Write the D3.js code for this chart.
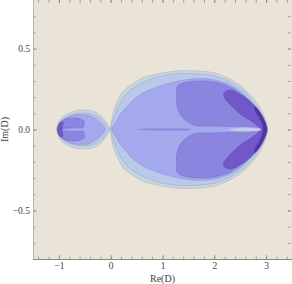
<!DOCTYPE html>
<html>
<head>
<meta charset="utf-8">
<script src="https://cdn.jsdelivr.net/npm/d3@7"></script>
<style>
  body { margin: 0; background: #fff; }
  text { font-family: "Liberation Serif", "DejaVu Serif", serif; fill: #444; }
</style>
</head>
<body>
<div id="chart"></div>
<script>
const w = 292;
const h = 284;
const margin = { left: 33, right: 0, top: 0, bottom: 25 };

const xDomain = [-1.5, 3.5];
const yDomain = [-0.8, 0.8];
const xTicks = [-1, 0, 1, 2, 3];
const yTicks = [-0.5, 0, 0.5];
const xLabel = "Re(D)";
const yLabel = "Im(D)";

// upper halves of each contour band, [Re, Im]
const bigOuter = [[0, 0], [0.02, 0.06], [0.06, 0.12], [0.14, 0.18], [0.25, 0.24], [0.41, 0.28], [0.62, 0.32], [0.85, 0.34], [1.1, 0.355], [1.39, 0.364], [1.72, 0.361], [2.01, 0.349], [2.26, 0.318], [2.49, 0.275], [2.68, 0.219], [2.84, 0.158], [2.95, 0.09], [3.01, 0.04], [3.03, 0]];
const bigLight = [[0, 0], [0.06, 0.07], [0.14, 0.14], [0.25, 0.2], [0.41, 0.25], [0.62, 0.29], [0.85, 0.32], [1.1, 0.337], [1.39, 0.346], [1.72, 0.343], [2.01, 0.33], [2.26, 0.3], [2.49, 0.256], [2.68, 0.2], [2.82, 0.145], [2.93, 0.083], [2.99, 0.034], [3.01, 0]];
const bigPeri = [[0.02, 0], [0.1, 0.046], [0.19, 0.096], [0.31, 0.14], [0.46, 0.19], [0.66, 0.232], [0.89, 0.262], [1.14, 0.287], [1.43, 0.306], [1.72, 0.315], [2.01, 0.306], [2.26, 0.281], [2.49, 0.238], [2.66, 0.188], [2.8, 0.133], [2.9, 0.077], [2.95, 0.034], [2.97, 0]];
const bigPurple = [[1.29, 0.269], [1.43, 0.29], [1.72, 0.3], [2.01, 0.293], [2.26, 0.269], [2.49, 0.225], [2.68, 0.176], [2.82, 0.12], [2.92, 0.065], [2.95, 0.022], [2.96, 0], [2.78, 0.015], [2.59, 0.019], [2.3, 0.019], [1.91, 0.022], [1.62, 0.025], [1.53, 0.04], [1.39, 0.071], [1.31, 0.114], [1.27, 0.164], [1.27, 0.219]];
const bigDark = [[2.2, 0.232], [2.32, 0.244], [2.49, 0.219], [2.64, 0.188], [2.8, 0.139], [2.92, 0.09], [2.99, 0.04], [3.01, 0], [2.92, 0], [2.84, 0.022], [2.68, 0.059], [2.55, 0.083], [2.39, 0.127], [2.26, 0.17], [2.18, 0.207]];
const bigDeep = [[2.78, 0.145], [2.88, 0.108], [2.95, 0.065], [3.01, 0.022], [3.02, 0], [2.95, 0], [2.92, 0.034], [2.86, 0.077], [2.78, 0.12]];
const bigStreak = [[2.26, 0], [2.4, 0.008], [2.7, 0.01], [2.9, 0.006], [2.95, 0]];
const bigLine = [[0.48, 0], [0.7, 0.005], [1.2, 0.006], [1.49, 0.004], [1.55, 0]];

const smallOuter = [[-1.04, 0], [-1.02, 0.034], [-0.97, 0.065], [-0.87, 0.09], [-0.73, 0.111], [-0.56, 0.12], [-0.39, 0.117], [-0.25, 0.099], [-0.15, 0.071], [-0.08, 0.04], [-0.02, 0.009], [0, 0]];
const smallLight = [[-0.99, 0], [-0.97, 0.034], [-0.93, 0.059], [-0.83, 0.08], [-0.71, 0.096], [-0.56, 0.102], [-0.41, 0.099], [-0.27, 0.083], [-0.17, 0.059], [-0.1, 0.031], [-0.04, 0.006], [-0.01, 0]];
const smallPeri = [[-1.0, 0], [-0.97, 0.04], [-0.89, 0.068], [-0.75, 0.086], [-0.6, 0.093], [-0.44, 0.09], [-0.31, 0.071], [-0.21, 0.046], [-0.14, 0.022], [-0.1, 0]];
const smallPurple = [[-1.01, 0], [-0.99, 0.034], [-0.94, 0.056], [-0.83, 0.068], [-0.69, 0.071], [-0.58, 0.065], [-0.51, 0.049], [-0.52, 0.025], [-0.56, 0]];
const smallDark = [[-1.03, 0], [-1.01, 0.028], [-0.97, 0.046], [-0.92, 0.043], [-0.93, 0.022], [-0.95, 0]];
const smallStreak = [[-0.93, 0], [-0.8, 0.006], [-0.5, 0.006], [-0.37, 0]];

const colors = {
  bg: "#eae4d8",
  outer: "#c9d4de",
  light: "#b8c9ea",
  peri: "#a3a9ec",
  purple: "#8c85e0",
  dark: "#7058c6",
  deep: "#5532a8",
  streak: "#c8d2ec",
};

const svg = d3.select("#chart").append("svg").attr("width", w).attr("height", h);

const x = d3.scaleLinear().domain(xDomain).range([margin.left, w - margin.right]);
const y = d3.scaleLinear().domain(yDomain).range([h - margin.bottom, margin.top]);

svg.append("defs").append("clipPath").attr("id", "plot")
  .append("rect")
  .attr("x", x(xDomain[0])).attr("y", y(yDomain[1]))
  .attr("width", x(xDomain[1]) - x(xDomain[0]))
  .attr("height", y(yDomain[0]) - y(yDomain[1]));

svg.append("rect")
  .attr("x", x(xDomain[0])).attr("y", y(yDomain[1]))
  .attr("width", x(xDomain[1]) - x(xDomain[0]))
  .attr("height", y(yDomain[0]) - y(yDomain[1]))
  .attr("fill", colors.bg);

// blob touching the axis at both ends: mirror into a closed shape
const mirrorClosed = function (upper) {
  const lower = upper.slice().reverse().filter((p) => p[1] !== 0).map((p) => [p[0], -p[1]]);
  return upper.concat(lower);
};
const flip = (pts) => pts.map((p) => [p[0], -p[1]]);

const line = d3.line()
  .x((d) => x(d[0]))
  .y((d) => y(d[1]))
  .curve(d3.curveCatmullRomClosed.alpha(0.5));

const g = svg.append("g").attr("clip-path", "url(#plot)");

const shapes = [
  { pts: mirrorClosed(bigOuter), fill: colors.outer, stroke: "#9aa4b0" },
  { pts: mirrorClosed(smallOuter), fill: colors.outer, stroke: "#9aa4b0" },
  { pts: mirrorClosed(bigLight), fill: colors.light, stroke: "#8f9cb8" },
  { pts: mirrorClosed(smallLight), fill: colors.light, stroke: "#8f9cb8" },
  { pts: mirrorClosed(bigPeri), fill: colors.peri, stroke: "#8088c0" },
  { pts: mirrorClosed(smallPeri), fill: colors.peri, stroke: "#8088c0" },
  { pts: bigPurple, fill: colors.purple, stroke: "#6e68c0" },
  { pts: flip(bigPurple), fill: colors.purple, stroke: "#6e68c0" },
  { pts: smallPurple, fill: colors.purple, stroke: "#6e68c0" },
  { pts: flip(smallPurple), fill: colors.purple, stroke: "#6e68c0" },
  { pts: mirrorClosed(bigLine), fill: colors.purple, stroke: "none" },
  { pts: mirrorClosed(smallStreak), fill: colors.peri, stroke: "none" },
  { pts: mirrorClosed(bigStreak), fill: colors.streak, stroke: "#a8b0d8" },
  { pts: bigDark, fill: colors.dark, stroke: "#5a48b0" },
  { pts: flip(bigDark), fill: colors.dark, stroke: "#5a48b0" },
  { pts: smallDark, fill: colors.dark, stroke: "#5a48b0" },
  { pts: flip(smallDark), fill: colors.dark, stroke: "#5a48b0" },
  { pts: bigDeep, fill: colors.deep, stroke: "none" },
  { pts: flip(bigDeep), fill: colors.deep, stroke: "none" },
];

g.selectAll("path")
  .data(shapes)
  .enter()
  .append("path")
  .attr("d", (d) => line(d.pts))
  .attr("fill", (d) => d.fill)
  .attr("stroke", (d) => d.stroke)
  .attr("stroke-width", 0.6)
  .attr("stroke-opacity", 0.7);

// frame ticks (inward), minor ones too
const minorX = d3.range(-1.4, 3.5, 0.2).map((v) => +v.toFixed(1));
const minorY = d3.range(-0.7, 0.8, 0.1).map((v) => +v.toFixed(1));

const tickStyle = (sel) => {
  sel.select(".domain").remove();
  sel.selectAll(".tick line").attr("stroke", "#777").attr("stroke-width", 0.6);
  sel.selectAll(".tick text").attr("font-size", "9.5px").attr("fill", "#444");
};

svg.append("g")
  .attr("transform", `translate(0,${y(yDomain[0])})`)
  .call(d3.axisBottom(x).tickValues(minorX).tickSize(-2.5).tickFormat(""))
  .call(tickStyle);
svg.append("g")
  .attr("transform", `translate(0,${y(yDomain[0])})`)
  .call(d3.axisBottom(x).tickValues(xTicks).tickSize(-4).tickPadding(3).tickFormat(d3.format("d")))
  .call(tickStyle);
svg.append("g")
  .attr("transform", `translate(0,${y(yDomain[1])})`)
  .call(d3.axisTop(x).tickValues(minorX.concat(xTicks)).tickSize(-3).tickFormat(""))
  .call(tickStyle);

svg.append("g")
  .attr("transform", `translate(${x(xDomain[0])},0)`)
  .call(d3.axisLeft(y).tickValues(minorY).tickSize(-2.5).tickFormat(""))
  .call(tickStyle);
svg.append("g")
  .attr("transform", `translate(${x(xDomain[0])},0)`)
  .call(d3.axisLeft(y).tickValues(yTicks).tickSize(-4).tickPadding(3).tickFormat(d3.format(".1f")))
  .call(tickStyle);
svg.append("g")
  .attr("transform", `translate(${x(xDomain[1]) - 1},0)`)
  .call(d3.axisRight(y).tickValues(minorY.concat(yTicks)).tickSize(-3).tickFormat(""))
  .call(tickStyle);

// left and bottom frame lines
svg.append("line")
  .attr("x1", x(xDomain[0]) + 0.5).attr("x2", x(xDomain[0]) + 0.5)
  .attr("y1", y(yDomain[1])).attr("y2", y(yDomain[0]))
  .attr("stroke", "#aaa").attr("stroke-width", 0.8);
svg.append("line")
  .attr("x1", x(xDomain[0])).attr("x2", x(xDomain[1]))
  .attr("y1", y(yDomain[0]) + 0.5).attr("y2", y(yDomain[0]) + 0.5)
  .attr("stroke", "#888").attr("stroke-width", 1);

svg.append("text")
  .attr("x", (x(xDomain[0]) + x(xDomain[1])) / 2)
  .attr("y", 282)
  .attr("text-anchor", "middle")
  .attr("font-size", "10px")
  .text(xLabel);

svg.append("text")
  .attr("transform", `translate(8,${y(0)}) rotate(-90)`)
  .attr("text-anchor", "middle")
  .attr("font-size", "10px")
  .text(yLabel);
</script>
</body>
</html>
